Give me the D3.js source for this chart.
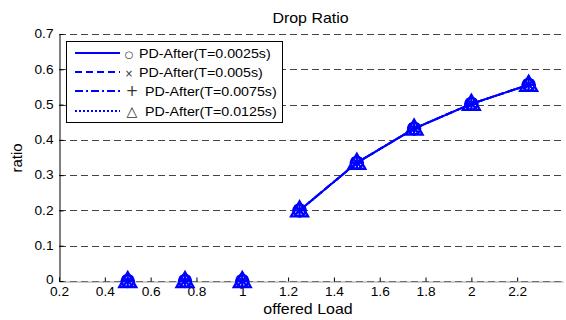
<!DOCTYPE html>
<html><head><meta charset="utf-8">
<script src="https://cdn.jsdelivr.net/npm/d3@7"></script>
<style>body{margin:0;background:#fff}svg{display:block;font-family:"Liberation Sans",Arial,sans-serif}</style>
</head><body><svg id="c" width="566" height="320"></svg>
<script>
const loads = [0.5, 0.75, 1, 1.25, 1.5, 1.75, 2, 2.25];
const seriesT0025 = [0, 0, 0, 0.2, 0.335, 0.432, 0.502, 0.556];
const seriesT005  = [0, 0, 0, 0.2, 0.335, 0.432, 0.502, 0.556];
const seriesT0075 = [0, 0, 0, 0.2, 0.335, 0.432, 0.502, 0.556];
const seriesT0125 = [0, 0, 0, 0.2, 0.335, 0.432, 0.502, 0.556];
const seriesNames = ["PD-After(T=0.0025s)", "PD-After(T=0.005s)", "PD-After(T=0.0075s)", "PD-After(T=0.0125s)"];
const legendSymbols = ["\u25CB", "\u00D7", "+", "\u25B3"];
const xTicks = [0.2, 0.4, 0.6, 0.8, 1, 1.2, 1.4, 1.6, 1.8, 2, 2.2];
const yTicks = [0, 0.1, 0.2, 0.3, 0.4, 0.5, 0.6, 0.7];
const titleText = "Drop Ratio", xLabel = "offered Load", yLabel = "ratio";

const allSeries = [seriesT0025, seriesT005, seriesT0075, seriesT0125];
const dashes = [null, "7,4", "8,3,2,3", "2,2"];
const markers = ["circle", "x", "plus", "triangle"];
const SX = 1.14;
const svg = d3.select("#c");
const x = d3.scaleLinear().domain([0.2, 2.4]).range([59, 563]);
const y = d3.scaleLinear().domain([0, 0.7]).range([281, 34]);

// grid
svg.append("g").selectAll("line").data(yTicks).join("line")
  .attr("x1", x(0.2)).attr("x2", x(2.4))
  .attr("y1", d => Math.round(y(d)) + 0.5).attr("y2", d => Math.round(y(d)) + 0.5)
  .attr("stroke", "#444").attr("stroke-dasharray", "7,4").attr("stroke-width", 1);

// axes
const gx = svg.append("g").attr("transform", `translate(0,${Math.round(y(0)) + 0.5})`)
  .call(d3.axisBottom(x).tickValues(xTicks).tickFormat(d3.format("~g")).tickSize(-4).tickSizeOuter(0).tickPadding(6));
const gy = svg.append("g").attr("transform", `translate(${Math.round(x(0.2)) + 0.5},0)`)
  .call(d3.axisLeft(y).tickValues(yTicks).tickFormat(d3.format("~g")).tickSize(-4).tickSizeOuter(0).tickPadding(5));
gx.select(".domain").attr("stroke", "#999");
gy.select(".domain").attr("stroke", "#000");
[gx, gy].forEach(g => {
  g.selectAll("text").attr("font-size", 12).attr("fill", "#000").attr("font-family", '"Liberation Sans",Arial,sans-serif');
  g.selectAll("line").attr("stroke", "#000");
});
gx.selectAll("text").attr("transform", `scale(${SX},1)`);
gy.selectAll("text").attr("x", -6 / SX).attr("transform", `scale(${SX},1)`);
gy.selectAll(".tick").filter(d => d === 0).select("text").attr("dy", "0.2em");

// title & labels
function stext(t, px, py, size, anchor) {
  return svg.append("text").text(t).attr("transform", `translate(${px},${py}) scale(${SX},1)`)
    .attr("font-size", size).attr("text-anchor", anchor || "start").attr("fill", "#000");
}
stext(titleText, 310.5, 23, 14, "middle");
stext(xLabel, 308, 314, 14, "middle");
svg.append("text").text(yLabel).attr("transform", "translate(22,158) rotate(-90)")
  .attr("font-size", 15).attr("text-anchor", "middle").attr("fill", "#000");

// lines
const lineGen = d3.line().defined((d, i) => i >= 3).x((d, i) => x(loads[i])).y(d => y(d));
allSeries.forEach((s, k) => {
  svg.append("path").datum(s).attr("d", lineGen).attr("fill", "none")
    .attr("stroke", "#0000ff").attr("stroke-width", 2)
    .attr("stroke-dasharray", dashes[k]);
});

// markers
function drawMarker(g, type, cx, cy) {
  if (type === "circle") g.append("circle").attr("cx", cx).attr("cy", cy).attr("r", 6);
  else if (type === "x") g.append("path").attr("d", `M${cx-5},${cy-5}L${cx+5},${cy+5}M${cx-5},${cy+5}L${cx+5},${cy-5}`);
  else if (type === "plus") g.append("path").attr("d", `M${cx-7},${cy}L${cx+7},${cy}M${cx},${cy-7}L${cx},${cy+7}`);
  else if (type === "triangle") g.append("path").attr("d", `M${cx},${cy-9}L${cx+8.5},${cy+6}L${cx-8.5},${cy+6}Z`);
}
allSeries.forEach((s, k) => {
  const g = svg.append("g").attr("fill", "none").attr("stroke", "#0000ff").attr("stroke-width", 2.3);
  s.forEach((v, i) => drawMarker(g, markers[k], x(loads[i]), y(v)));
});

// legend
const lg = svg.append("g");
lg.append("rect").attr("x", 66.5).attr("y", 41.5).attr("width", 216).attr("height", 81)
  .attr("fill", "#fff").attr("stroke", "#000").attr("stroke-width", 1);
const rowY = [53, 72, 91, 111];
const textX = [139, 139, 145, 145];
const symX = [129, 129, 132, 132];
seriesNames.forEach((name, k) => {
  lg.append("line").attr("x1", 75).attr("x2", 120).attr("y1", rowY[k]).attr("y2", rowY[k])
    .attr("stroke", "#0000ff").attr("stroke-width", 2).attr("stroke-dasharray", dashes[k]);
  lg.append("text").text(legendSymbols[k]).attr("x", symX[k]).attr("y", rowY[k] + 4.5)
    .attr("text-anchor", "middle").attr("font-size", k === 3 ? 14 : (k === 2 ? 15 : 10)).attr("fill", "#333")
    .attr("font-family", '"DejaVu Sans",sans-serif');
  lg.append("text").text(name).attr("transform", `translate(${textX[k]},${rowY[k] + 4.5}) scale(${SX},1)`)
    .attr("font-size", 12.5).attr("fill", "#000");
});
</script></body></html>
